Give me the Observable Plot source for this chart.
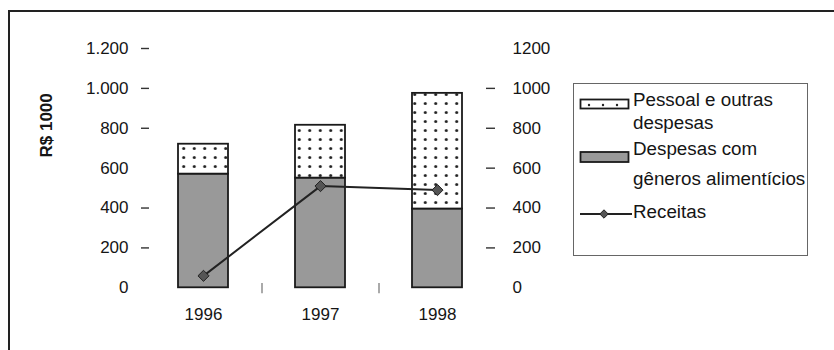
<!DOCTYPE html>
<html>
<head>
<meta charset="utf-8">
<script src="https://cdn.jsdelivr.net/npm/d3@7"></script>
<script src="https://cdn.jsdelivr.net/npm/@observablehq/plot@0.6"></script>
<style>
  html, body { margin: 0; padding: 0; background: #fff; }
  #wrap { position: relative; width: 834px; height: 350px; overflow: hidden; background: #fff;
          font-family: "Liberation Sans", Arial, Helvetica, sans-serif; color: #151515; }
  #frame { position: absolute; left: 8px; top: 10px; right: -4px; bottom: -4px;
           border-top: 2px solid #222; border-left: 2px solid #222; }
  #chart { position: absolute; left: 0; top: 0; }
  #legend-box { position: absolute; left: 573px; top: 83px; width: 233px; height: 171px;
                border: 1.5px solid #666; }
  .lg { position: absolute; font-size: 18.8px; line-height: 22px; white-space: nowrap; }
  #legend-keys { position: absolute; left: 0; top: 0; }
</style>
</head>
<body>
<div id="wrap">
  <div id="frame"></div>
  <div id="chart"></div>
  <div id="legend-box"></div>
  <svg id="legend-keys" width="834" height="350"></svg>
  <div class="lg" style="left:633px; top:89px">Pessoal e outras</div>
  <div class="lg" style="left:633px; top:111.5px">despesas</div>
  <div class="lg" style="left:633px; top:138px">Despesas com</div>
  <div class="lg" style="left:633px; top:168px">gêneros alimentícios</div>
  <div class="lg" style="left:633px; top:201.3px">Receitas</div>
</div>
<script>
// Spending and revenue per year, in R$ 1000
const years = ["1996", "1997", "1998"];
const generos = [570, 550, 395];    // Despesas com gêneros alimentícios
const pessoal = [150, 265, 580];    // Pessoal e outras despesas
const receitas = [60, 510, 490];    // Receitas

// Axis ticks
const leftTicks = [0, 200, 400, 600, 800, 1000, 1200];
const leftDash = [200, 400, 800, 1000, 1200];
const rightTicks = [0, 200, 400, 600, 800, 1000, 1200];
const rightDash = [200, 400, 600, 800, 1000];

const rows = years.map((year, i) => ({
  year,
  generos: generos[i],
  pessoal: pessoal[i],
  total: generos[i] + pessoal[i],
  receitas: receitas[i]
}));

const pt = d3.formatLocale({decimal: ",", thousands: ".", grouping: [3], currency: ["R$", ""]}).format(",");

// Dotted fill used for the "Pessoal e outras despesas" segment
function dotPattern(id, w, h, r) {
  return () => {
    const defs = d3.create("svg:defs");
    const p = defs.append("pattern").attr("id", id)
      .attr("patternUnits", "userSpaceOnUse").attr("width", w).attr("height", h);
    p.append("rect").attr("width", w).attr("height", h).attr("fill", "#fff");
    p.append("circle").attr("cx", w / 2).attr("cy", h / 2).attr("r", r).attr("fill", "#222");
    return defs.node();
  };
}

const chart = Plot.plot({
  width: 834,
  height: 350,
  marginLeft: 149,
  marginRight: 349,
  marginTop: 27,
  marginBottom: 63,
  style: {fontFamily: "'Liberation Sans', Arial, Helvetica, sans-serif", fontSize: "17px",
          color: "#151515", background: "transparent", overflow: "visible"},
  x: {domain: years, range: [144.5, 495.5], paddingInner: 0.573, paddingOuter: 0.2865, label: null},
  y: {domain: [0, 1200], range: [287.3, 48], label: null},
  marks: [
    dotPattern("dots", 10.5, 9, 1.5),
    // separators between the year categories
    Plot.ruleX(years.slice(1), {x: d => d, dx: -58.5, y1: 22, y2: -30, stroke: "#aaa", strokeWidth: 2}),
    Plot.barY(rows, {x: "year", y1: 0, y2: "generos", fill: "#999", stroke: "#1a1a1a",
                     strokeWidth: 1.8, inset: 0}),
    Plot.barY(rows, {x: "year", y1: "generos", y2: "total", fill: "url(#dots)", stroke: "#1a1a1a",
                     strokeWidth: 1.8, inset: 0}),
    Plot.line(rows, {x: "year", y: "receitas", stroke: "#222", strokeWidth: 2}),
    Plot.dot(rows, {x: "year", y: "receitas", symbol: "diamond2", r: 5, fill: "#555",
                    stroke: "#222", strokeWidth: 1}),
    Plot.axisX({tickSize: 0, tickPadding: 20, fontSize: 17}),
    Plot.axisY({anchor: "left", ticks: leftTicks, tickSize: 0, tickPadding: 21, tickFormat: pt, fontSize: 17}),
    Plot.axisY({anchor: "left", ticks: leftDash, tickSize: 8, tickFormat: () => "", stroke: "#333", strokeWidth: 1.4}),
    Plot.axisY({anchor: "right", ticks: rightTicks, tickSize: 0, tickPadding: 27, tickFormat: d => String(d), fontSize: 17}),
    Plot.axisY({anchor: "right", ticks: rightDash, tickSize: 9, tickFormat: () => "", stroke: "#333", strokeWidth: 1.4}),
    Plot.text(["R$ 1000"], {frameAnchor: "left", dx: -103, rotate: -90, fontWeight: "bold", fontSize: 17})
  ]
});
document.getElementById("chart").appendChild(chart);

// Legend keys
const keys = d3.select("#legend-keys");
const kd = keys.append("defs").append("pattern").attr("id", "dotsKey")
  .attr("patternUnits", "userSpaceOnUse").attr("width", 14).attr("height", 10)
  .attr("x", 582).attr("y", 99);
kd.append("rect").attr("width", 14).attr("height", 10).attr("fill", "#fff");
kd.append("circle").attr("cx", 7).attr("cy", 6).attr("r", 1.2).attr("fill", "#222");
keys.append("rect").attr("x", 580.5).attr("y", 99.5).attr("width", 48).attr("height", 9)
  .attr("fill", "url(#dotsKey)").attr("stroke", "#1a1a1a").attr("stroke-width", 1.8);
keys.append("rect").attr("x", 580.5).attr("y", 152).attr("width", 48).attr("height", 10)
  .attr("fill", "#999").attr("stroke", "#1a1a1a").attr("stroke-width", 1.8);
keys.append("line").attr("x1", 580).attr("x2", 632).attr("y1", 214).attr("y2", 214)
  .attr("stroke", "#222").attr("stroke-width", 2);
keys.append("path").attr("d", d3.symbol(d3.symbolDiamond2, 45)()).attr("transform", "translate(604,214)")
  .attr("fill", "#555").attr("stroke", "#222").attr("stroke-width", 1);
</script>
</body>
</html>
